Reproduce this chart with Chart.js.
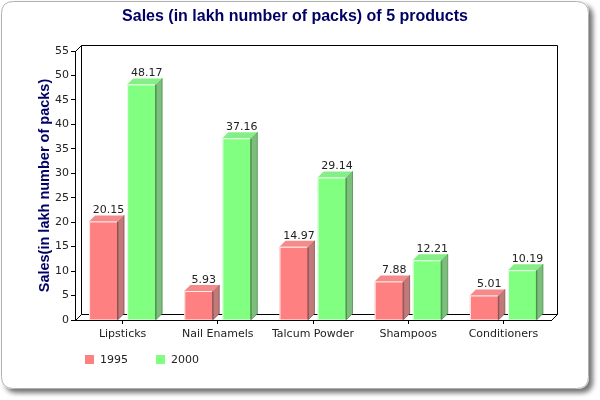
<!DOCTYPE html>
<html>
<head>
<meta charset="utf-8">
<script src="https://cdn.jsdelivr.net/npm/chart.js@4"></script>
<style>
  body { margin: 0; background: #fff; }
  canvas { display: block; }
</style>
</head>
<body>
<canvas id="salesChart" width="600" height="400"></canvas>
<script>
/* Sales (in lakh number of packs) of 5 products - 3D look bars */
const categories = ["Lipsticks", "Nail Enamels", "Talcum Powder", "Shampoos", "Conditioners"];
const sales1995 = [20.15, 5.93, 14.97, 7.88, 5.01];
const sales2000 = [48.17, 37.16, 29.14, 12.21, 10.19];
const seriesNames = ["1995", "2000"];

const DEPTH = 6;
const faces = [
  { front: "#ff8080", side: "#c07a7a", top: "#f58a8a", edge: "#8a5050" },
  { front: "#80ff80", side: "#7cbf7c", top: "#86ee86", edge: "#4f8a4f" },
];

function roundRect(ctx, x, y, w, h, r) {
  ctx.beginPath();
  ctx.moveTo(x + r, y);
  ctx.lineTo(x + w - r, y);
  ctx.quadraticCurveTo(x + w, y, x + w, y + r);
  ctx.lineTo(x + w, y + h - r);
  ctx.quadraticCurveTo(x + w, y + h, x + w - r, y + h);
  ctx.lineTo(x + r, y + h);
  ctx.quadraticCurveTo(x, y + h, x, y + h - r);
  ctx.lineTo(x, y + r);
  ctx.quadraticCurveTo(x, y, x + r, y);
  ctx.closePath();
}

const frame3d = {
  id: "frame3d",
  beforeDraw(chart) {
    const ctx = chart.ctx;
    ctx.save();
    ctx.shadowColor = "rgba(0,0,0,0.55)";
    ctx.shadowBlur = 5;
    ctx.shadowOffsetX = 4;
    ctx.shadowOffsetY = 4;
    roundRect(ctx, 1, 1, 588, 388, 12);
    ctx.fillStyle = "#fff";
    ctx.fill();
    ctx.restore();
    ctx.save();
    roundRect(ctx, 1.5, 1.5, 587, 387, 12);
    ctx.strokeStyle = "#b0b0b0";
    ctx.lineWidth = 1;
    ctx.stroke();
    ctx.restore();
  },
  beforeDatasetsDraw(chart) {
    // back wall and floor outline
    const { left, right, top, bottom } = chart.chartArea;
    const ctx = chart.ctx;
    ctx.save();
    ctx.strokeStyle = "#000";
    ctx.lineWidth = 1;
    ctx.beginPath();
    ctx.moveTo(left + DEPTH + 0.5, bottom - DEPTH + 0.5);
    ctx.lineTo(left + DEPTH + 0.5, top - DEPTH + 0.5);
    ctx.lineTo(right + DEPTH + 0.5, top - DEPTH + 0.5);
    ctx.lineTo(right + DEPTH + 0.5, bottom - DEPTH + 0.5);
    ctx.lineTo(left + DEPTH + 0.5, bottom - DEPTH + 0.5);
    ctx.moveTo(left + 0.5, top + 0.5);
    ctx.lineTo(left + DEPTH + 0.5, top - DEPTH + 0.5);
    ctx.moveTo(left + 0.5, bottom + 0.5);
    ctx.lineTo(left + DEPTH + 0.5, bottom - DEPTH + 0.5);
    ctx.moveTo(right + 0.5, bottom + 0.5);
    ctx.lineTo(right + DEPTH + 0.5, bottom - DEPTH + 0.5);
    ctx.stroke();
    ctx.restore();
  },
  afterDatasetsDraw(chart) {
    const ctx = chart.ctx;
    ctx.save();
    chart.data.datasets.forEach((ds, di) => {
      const meta = chart.getDatasetMeta(di);
      const c = faces[di];
      meta.data.forEach((bar, i) => {
        const p = bar.getProps(["x", "y", "base", "width"], true);
        const l = p.x - p.width / 2, r = p.x + p.width / 2;
        const t = p.y, b = p.base;
        // side
        ctx.beginPath();
        ctx.moveTo(r, t);
        ctx.lineTo(r + DEPTH, t - DEPTH);
        ctx.lineTo(r + DEPTH, b - DEPTH);
        ctx.lineTo(r, b);
        ctx.closePath();
        ctx.fillStyle = c.side;
        ctx.fill();
        ctx.strokeStyle = c.edge;
        ctx.lineWidth = 0.8;
        ctx.stroke();
        // top
        ctx.beginPath();
        ctx.moveTo(l, t);
        ctx.lineTo(l + DEPTH, t - DEPTH);
        ctx.lineTo(r + DEPTH, t - DEPTH);
        ctx.lineTo(r, t);
        ctx.closePath();
        ctx.fillStyle = c.top;
        ctx.fill();
        // highlight on front edges
        ctx.strokeStyle = "rgba(255,255,255,0.85)";
        ctx.lineWidth = 1;
        ctx.beginPath();
        ctx.moveTo(l + 0.5, b);
        ctx.lineTo(l + 0.5, t + 0.5);
        ctx.lineTo(r, t + 0.5);
        ctx.stroke();
        ctx.strokeStyle = c.edge;
        ctx.beginPath();
        ctx.moveTo(r - 0.5, t);
        ctx.lineTo(r - 0.5, b);
        ctx.stroke();
        // value label
        ctx.fillStyle = "#222";
        ctx.font = "11px 'DejaVu Sans'";
        ctx.textAlign = "center";
        ctx.textBaseline = "alphabetic";
        ctx.fillText(ds.data[i].toFixed(2), p.x + DEPTH / 2 + 2, t - DEPTH - 2);
      });
    });
    ctx.restore();
  },
  afterDraw(chart) {
    // legend, lower left
    const ctx = chart.ctx;
    const xs = [85, 156];
    ctx.save();
    ctx.font = "11px 'DejaVu Sans'";
    ctx.textBaseline = "middle";
    ctx.textAlign = "left";
    chart.data.datasets.forEach((ds, di) => {
      ctx.fillStyle = ds.backgroundColor;
      ctx.fillRect(xs[di], 355, 9, 9);
      ctx.fillStyle = "#222";
      ctx.fillText(ds.label, xs[di] + 15, 360);
    });
    ctx.restore();
  },
};

new Chart(document.getElementById("salesChart"), {
  type: "bar",
  data: {
    labels: categories,
    datasets: [
      { label: seriesNames[0], data: sales1995, backgroundColor: faces[0].front },
      { label: seriesNames[1], data: sales2000, backgroundColor: faces[1].front },
    ],
  },
  options: {
    responsive: false,
    animation: false,
    categoryPercentage: 0.8,
    barPercentage: 0.76,
    layout: { padding: { left: 0, right: 10, top: 0, bottom: 55 } },
    plugins: {
      legend: { display: false },
      tooltip: { enabled: false },
      title: {
        display: true,
        text: "Sales (in lakh number of packs) of 5 products",
        color: "#000066",
        font: { family: "'Liberation Sans', Arial, sans-serif", size: 16, weight: "bold" },
        padding: { top: 7, bottom: 24.8 },
      },
    },
    scales: {
      x: {
        grid: { offset: false, drawOnChartArea: false, tickLength: 4, color: "#000" },
        border: { display: true, color: "#000" },
        ticks: { color: "#222", padding: 4, font: { family: "'DejaVu Sans'", size: 11 } },
        afterFit(scale) { scale.height = 25; },
      },
      y: {
        min: 0,
        max: 55,
        grid: { drawOnChartArea: false, tickLength: 4, color: "#000" },
        border: { display: true, color: "#000" },
        ticks: { stepSize: 5, color: "#222", padding: 2, font: { family: "'DejaVu Sans'", size: 11 } },
        title: {
          display: true,
          text: "Sales(in lakh number of packs)",
          color: "#000066",
          font: { family: "'Liberation Sans', Arial, sans-serif", size: 14.5, weight: "bold" },
          padding: { top: 36, bottom: 0 },
        },
        afterFit(scale) { scale.width = 75; },
      },
      // empty spacer on the right so the title centres on the whole frame
      spacer: {
        position: "right",
        grid: { display: false },
        border: { display: false },
        ticks: { display: false },
        afterFit(scale) { scale.width = 39; },
      },
    },
  },
  plugins: [frame3d],
});
</script>
</body>
</html>
